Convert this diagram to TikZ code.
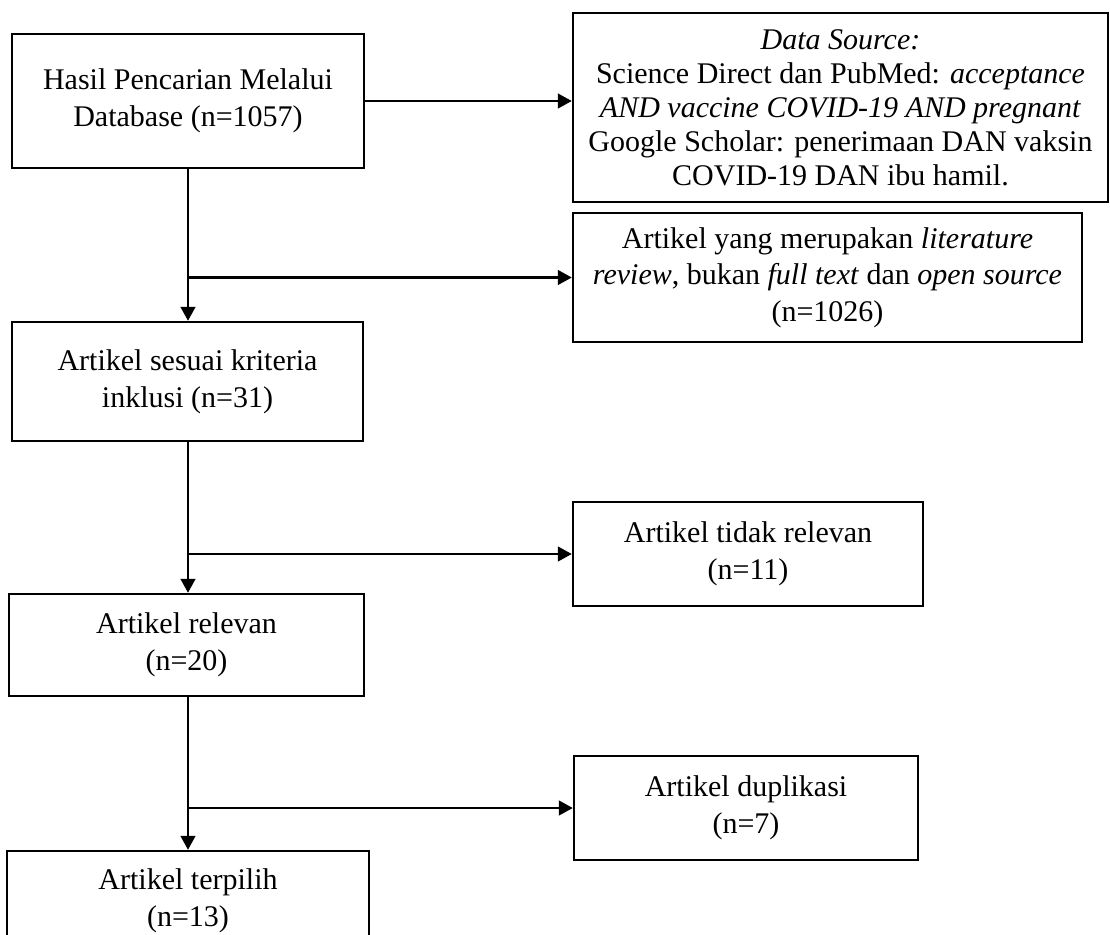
\documentclass[tikz,border=0pt]{standalone}
\usepackage{fontspec}
\setmainfont{Liberation Serif}
\usetikzlibrary{arrows.meta}
\begin{document}
\begin{tikzpicture}[x=0.75pt, y=-0.75pt, line width=1.8pt, line join=miter,
 font=\fontsize{22.5}{27.5}\selectfont, >={Triangle[length=10.5pt,width=11pt]},
 kotak/.style={draw, rectangle, align=center, inner sep=0pt}]
 \useasboundingbox (0,0) rectangle (1110,935);
 \path
 (188,101) node[kotak, minimum width=264pt, minimum height=100.5pt] (hasil) {Hasil Pencarian Melalui\\Database (n=1057)}
 (840.5,107.5) node[kotak, minimum width=401.25pt, minimum height=141.75pt, font=\fontsize{22.5}{25.5}\selectfont] (sumber) {\textit{Data Source:}\\Science Direct dan PubMed: \textit{acceptance}\\\textit{AND vaccine COVID-19 AND pregnant}\\Google Scholar: penerimaan DAN vaksin\\COVID-19 DAN ibu hamil.}
 (827.5,277.5) node[kotak, minimum width=381.75pt, minimum height=96.75pt] (literatur) {Artikel yang merupakan \textit{literature}\\\textit{review}, bukan \textit{full text} dan \textit{open source}\\(n=1026)}
 (187.5,381.5) node[kotak, minimum width=263.25pt, minimum height=89.25pt] (inklusi) {Artikel sesuai kriteria\\inklusi (n=31)}
 (748,554) node[kotak, minimum width=262.5pt, minimum height=78pt] (tidak) {Artikel tidak relevan\\(n=11)}
 (186.5,645) node[kotak, minimum width=266.25pt, minimum height=76.5pt] (relevan) {Artikel relevan\\(n=20)}
 (746,808) node[kotak, minimum width=258pt, minimum height=78pt] (duplikat) {Artikel duplikasi\\(n=7)}
 (188,901) node[kotak, minimum width=271.5pt, minimum height=75pt] (pilih) {Artikel terpilih\\(n=13)};
 \coordinate (c1) at (hasil.south |- literatur.west);
 \coordinate (c2) at (hasil.south |- tidak.west);
 \coordinate (c3) at (hasil.south |- duplikat.west);
 \draw[->] (hasil.east) -- (hasil.east -| sumber.west);
 \draw[->] (hasil.south) -- (hasil.south |- inklusi.north);
 \draw[->] (c1) -- (literatur.west);
 \draw[->] (inklusi.south -| hasil.south) -- (hasil.south |- relevan.north);
 \draw[->] (c2) -- (tidak.west);
 \draw[->] (relevan.south -| hasil.south) -- (hasil.south |- pilih.north);
 \draw[->] (c3) -- (duplikat.west);
\end{tikzpicture}
\end{document}
